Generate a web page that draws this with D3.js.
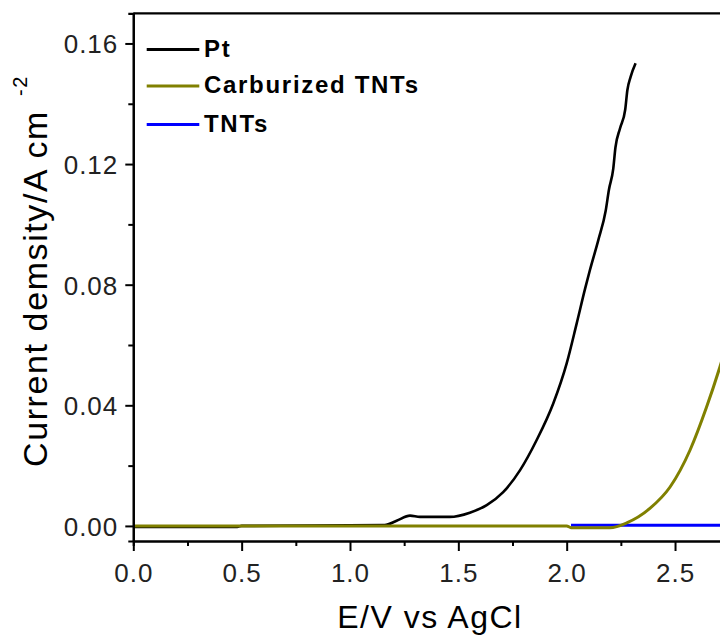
<!DOCTYPE html>
<html>
<head>
<meta charset="utf-8">
<script src="https://cdn.jsdelivr.net/npm/d3@7"></script>
<style>
  body { margin: 0; background: #fff; }
  svg { display: block; font-family: Arial, "Liberation Sans", sans-serif; }
</style>
</head>
<body>
<svg id="chart" width="720" height="638"></svg>
<script>
// data
var seriesNames = ["Pt", "Carburized TNTs", "TNTs"];
var seriesColors = ["#000000", "#808000", "#0000ff"];

var ptE = [0, 0.48, 0.5, 1.16, 1.215, 1.277, 1.323, 1.461, 1.553, 1.631, 1.707, 1.785, 1.861, 1.938, 2.0, 2.046, 2.085, 2.107, 2.146, 2.18, 2.195, 2.215, 2.225, 2.246, 2.27, 2.28, 2.295, 2.318];
var ptJ = [-0.0003, -0.0003, 0, 0.0003, 0.0017, 0.0034, 0.003, 0.003, 0.0044, 0.0069, 0.0112, 0.0185, 0.0284, 0.0406, 0.0539, 0.0671, 0.0787, 0.0848, 0.0948, 0.1045, 0.1115, 0.1185, 0.1255, 0.1318, 0.138, 0.1445, 0.1489, 0.1534];

var carbE = [0, 2.0, 2.02, 2.2, 2.277, 2.384, 2.477, 2.569, 2.646, 2.707, 2.75];
var carbJ = [0, 0, -0.0006, -0.0006, 0.001, 0.0058, 0.0129, 0.0251, 0.0395, 0.0527, 0.063];

var tntE = [2.02, 2.75];
var tntJ = [0.0002, 0.0002];

var xTicks = [0, 0.5, 1.0, 1.5, 2.0, 2.5];
var yTicks = [0, 0.04, 0.08, 0.12, 0.16];

function createChart() {
    var svg = d3.select("#chart");

    var x = d3.scaleLinear().domain([0, 2.75]).range([133.3, 729.2]);
    var y = d3.scaleLinear().domain([-0.005, 0.17]).range([541, 13.3]);

    var line = d3.line()
        .x(function(d) { return x(d[0]); })
        .y(function(d) { return y(d[1]); })
        .curve(d3.curveMonotoneX);

    function pairs(a, b) { return a.map(function(v, i) { return [v, b[i]]; }); }

    var plot = svg.append("g");
    // draw order: Pt, TNTs, Carburized on top
    plot.append("path").datum(pairs(ptE, ptJ))
        .attr("d", line).attr("fill", "none")
        .attr("stroke", seriesColors[0]).attr("stroke-width", 2.6);
    plot.append("path").datum(pairs(tntE, tntJ))
        .attr("d", line).attr("fill", "none")
        .attr("stroke", seriesColors[2]).attr("stroke-width", 3);
    plot.append("path").datum(pairs(carbE, carbJ))
        .attr("d", line).attr("fill", "none")
        .attr("stroke", seriesColors[1]).attr("stroke-width", 3);

    // x axis
    var xAxis = svg.append("g").attr("transform", "translate(0,541)");
    xAxis.call(d3.axisBottom(x).tickValues(xTicks).tickSize(10).tickSizeOuter(0)
        .tickFormat(d3.format(".1f")));
    xAxis.append("g").call(d3.axisBottom(x).tickValues(d3.range(0.25, 2.8, 0.5)).tickSize(5).tickFormat(""));
    // y axis
    var yAxis = svg.append("g").attr("transform", "translate(133.3,0)");
    yAxis.call(d3.axisLeft(y).tickValues(yTicks).tickSize(8).tickSizeOuter(0)
        .tickFormat(d3.format(".2f")));
    yAxis.append("g").call(d3.axisLeft(y).tickValues([0.02, 0.06, 0.10, 0.14]).tickSize(5).tickFormat(""));

    svg.selectAll(".domain").attr("stroke", "#000").attr("stroke-width", 2.2);
    svg.selectAll(".tick line").attr("stroke", "#000").attr("stroke-width", 2);
    svg.selectAll(".tick text")
        .attr("fill", "#222")
        .style("font-size", "26px")
        .style("letter-spacing", "1px")
        .style("font-family", "Arial, 'Liberation Sans', sans-serif");
    xAxis.selectAll(".tick text").attr("dy", "0.72em").attr("y", 22);
    yAxis.selectAll(".tick text").attr("x", -15).attr("dy", "0.36em");

    // top frame line
    svg.append("line")
        .attr("x1", 133.3).attr("x2", 720).attr("y1", 13.3).attr("y2", 13.3)
        .attr("stroke", "#000").attr("stroke-width", 2.2);

    // axis titles
    svg.append("text")
        .attr("x", 430).attr("y", 628)
        .attr("text-anchor", "middle")
        .style("font-size", "32px").style("letter-spacing", "1.5px")
        .text("E/V vs AgCl");

    var yt = svg.append("text")
        .attr("transform", "translate(47,467) rotate(-90)")
        .style("font-size", "34px").style("letter-spacing", "1.6px");
    yt.append("tspan").text("Current demsity/A cm");
    yt.append("tspan").attr("dx", 14).attr("dy", -20).style("font-size", "20px").text("-2");

    // legend
    var legend = svg.append("g").selectAll("g")
        .data(seriesNames)
        .enter().append("g")
        .attr("transform", function(d, i) { return "translate(0," + [56.7, 93.3, 131.7][i] + ")"; });
    legend.append("line")
        .attr("x1", 146.7).attr("x2", 199.3).attr("y1", -7.3).attr("y2", -7.3)
        .attr("stroke", function(d, i) { return seriesColors[i]; })
        .attr("stroke-width", 3);
    legend.append("text")
        .attr("x", 204)
        .style("font-size", "24px").style("font-weight", "bold").style("letter-spacing", "1.7px")
        .text(function(d) { return d; });
}

createChart();
</script>
</body>
</html>
